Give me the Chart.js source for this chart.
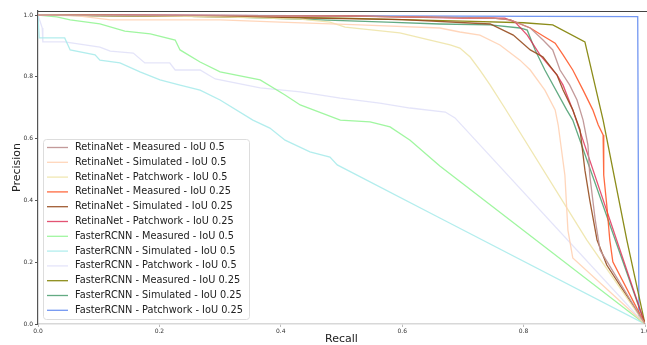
<!DOCTYPE html>
<html>
<head>
<meta charset="utf-8">
<script src="https://cdn.jsdelivr.net/npm/chart.js"></script>
<style>
  html, body { margin: 0; padding: 0; background: #fff; }
  #wrap { width: 647px; height: 345px; position: relative; }
</style>
</head>
<body>
<div id="wrap"><canvas id="prChart"></canvas></div>
<script>
// Recall / precision pairs
const labels = [
  'RetinaNet - Measured - IoU 0.5',
  'RetinaNet - Simulated - IoU 0.5',
  'RetinaNet - Patchwork - IoU 0.5',
  'RetinaNet - Measured - IoU 0.25',
  'RetinaNet - Simulated - IoU 0.25',
  'RetinaNet - Patchwork - IoU 0.25',
  'FasterRCNN - Measured - IoU 0.5',
  'FasterRCNN - Simulated - IoU 0.5',
  'FasterRCNN - Patchwork - IoU 0.5',
  'FasterRCNN - Measured - IoU 0.25',
  'FasterRCNN - Simulated - IoU 0.25',
  'FasterRCNN - Patchwork - IoU 0.25'
];

const colors = [
  'rgba(188,143,143,0.9)',  // rosybrown
  'rgba(255,210,180,0.9)',  // peachpuff
  'rgba(238,228,170,0.9)',  // palegoldenrod
  'rgba(255,80,30,0.85)',   // orangered
  'rgba(150,75,30,0.9)',    // sienna
  'rgba(220,40,80,0.8)',    // crimson
  'rgba(150,245,150,0.9)',  // palegreen
  'rgba(170,235,235,0.9)',  // paleturquoise
  'rgba(225,225,248,0.9)',  // lavender
  'rgba(128,128,0,0.9)',    // olive
  'rgba(60,150,100,0.8)',   // seagreen
  'rgba(100,140,240,0.9)'   // cornflowerblue
];

const retMeas05R = [0, 0.5, 0.75, 0.778, 0.811, 0.832, 0.848, 0.860, 0.876, 0.888, 0.898, 0.906, 0.909, 0.918, 0.926, 1];
const retMeas05P = [1, 0.997, 0.99, 0.984, 0.958, 0.919, 0.887, 0.822, 0.773, 0.725, 0.660, 0.579, 0.482, 0.337, 0.239, 0];

const retSim05R = [0, 0.066, 0.119, 0.300, 0.399, 0.530, 0.662, 0.695, 0.728, 0.761, 0.794, 0.811, 0.835, 0.852, 0.857, 0.868, 0.873, 0.881, 1];
const retSim05P = [1, 0.997, 0.984, 0.984, 0.977, 0.968, 0.958, 0.945, 0.935, 0.903, 0.854, 0.822, 0.757, 0.693, 0.644, 0.482, 0.304, 0.214, 0];

const retPatch05R = [0, 0.185, 0.300, 0.432, 0.481, 0.506, 0.596, 0.646, 0.679, 0.695, 0.712, 0.728, 0.745, 0.769, 0.904, 1];
const retPatch05P = [1, 0.997, 0.994, 0.987, 0.977, 0.961, 0.942, 0.919, 0.903, 0.893, 0.864, 0.822, 0.773, 0.699, 0.272, 0];

const retMeas025R = [0, 0.5, 0.75, 0.778, 0.811, 0.835, 0.852, 0.865, 0.881, 0.898, 0.914, 0.923, 0.931, 0.932, 0.937, 0.942, 0.947, 1];
const retMeas025P = [1, 0.997, 0.99, 0.984, 0.958, 0.929, 0.909, 0.871, 0.822, 0.757, 0.693, 0.644, 0.612, 0.482, 0.385, 0.272, 0.201, 0];

const retSim025R = [0, 0.3, 0.6, 0.745, 0.783, 0.811, 0.832, 0.855, 0.865, 0.881, 0.893, 0.901, 0.909, 0.921, 0.937, 1];
const retSim025P = [1, 0.995, 0.985, 0.971, 0.935, 0.887, 0.864, 0.806, 0.757, 0.693, 0.628, 0.498, 0.401, 0.272, 0.191, 0];

const retPatch025R = [0, 0.5, 0.7, 0.769, 0.786, 0.806, 0.827, 0.855, 0.865, 0.881, 1];
const retPatch025P = [1, 0.997, 0.99, 0.990, 0.977, 0.935, 0.871, 0.806, 0.773, 0.693, 0];

const frcMeas05R = [0, 0.031, 0.053, 0.102, 0.143, 0.185, 0.226, 0.234, 0.267, 0.300, 0.366, 0.407, 0.432, 0.498, 0.547, 0.580, 0.613, 0.662, 1];
const frcMeas05P = [1, 0.994, 0.984, 0.971, 0.948, 0.939, 0.919, 0.887, 0.848, 0.816, 0.790, 0.741, 0.709, 0.660, 0.654, 0.638, 0.595, 0.511, 0];

const frcSim05R = [0, 0.002, 0.044, 0.053, 0.094, 0.102, 0.135, 0.168, 0.201, 0.234, 0.267, 0.300, 0.354, 0.382, 0.407, 0.448, 0.481, 0.493, 0.662, 1];
const frcSim05P = [1, 0.926, 0.926, 0.887, 0.871, 0.854, 0.845, 0.816, 0.790, 0.773, 0.757, 0.725, 0.660, 0.634, 0.595, 0.557, 0.540, 0.515, 0.343, 0];

const frcPatch05R = [0, 0.007, 0.008, 0.044, 0.102, 0.119, 0.157, 0.176, 0.217, 0.226, 0.267, 0.292, 0.366, 0.432, 0.498, 0.563, 0.613, 0.671, 0.687, 1];
const frcPatch05P = [1, 0.958, 0.913, 0.913, 0.896, 0.883, 0.877, 0.845, 0.845, 0.822, 0.822, 0.793, 0.764, 0.751, 0.731, 0.715, 0.699, 0.686, 0.667, 0];

const frcMeas025R = [0, 0.25, 0.5, 0.7, 0.8, 0.848, 0.901, 0.931, 0.970, 1];
const frcMeas025P = [1, 0.996, 0.99, 0.98, 0.975, 0.968, 0.913, 0.660, 0.272, 0];

const frcSim025R = [0, 0.3, 0.465, 0.575, 0.662, 0.745, 0.794, 0.806, 0.819, 0.835, 0.871, 0.881, 1];
const frcSim025P = [1, 0.995, 0.984, 0.977, 0.971, 0.968, 0.958, 0.951, 0.887, 0.822, 0.693, 0.660, 0];

const frcPatch025R = [0, 0.988, 0.990, 1];
const frcPatch025P = [1, 0.995, 0.02, 0];

const recallSets = [retMeas05R, retSim05R, retPatch05R, retMeas025R, retSim025R, retPatch025R,
                    frcMeas05R, frcSim05R, frcPatch05R, frcMeas025R, frcSim025R, frcPatch025R];
const precisionSets = [retMeas05P, retSim05P, retPatch05P, retMeas025P, retSim025P, retPatch025P,
                       frcMeas05P, frcSim05P, frcPatch05P, frcMeas025P, frcSim025P, frcPatch025P];

const tickValues = [0, 0.2, 0.4, 0.6, 0.8, 1.0];

const datasets = labels.map((label, i) => ({
  label: label,
  data: recallSets[i].map((r, j) => ({ x: r, y: precisionSets[i][j] })),
  borderColor: colors[i],
  backgroundColor: colors[i],
  borderWidth: 1.3,
  pointRadius: 0,
  fill: false,
  tension: 0
}));

// legend drawn inside the plot, plus the top frame line
const innerLegend = {
  id: 'innerLegend',
  afterDraw(chart) {
    const ctx = chart.ctx;
    const area = chart.chartArea;
    ctx.save();
    ctx.strokeStyle = '#444';
    ctx.lineWidth = 1.2;
    ctx.beginPath();
    ctx.moveTo(area.left, area.top + 0.5);
    ctx.lineTo(chart.width, area.top + 0.5);
    ctx.stroke();

    const bx = 43, by = 139, bw = 206, bh = 180, rad = 3;
    ctx.fillStyle = 'rgba(255,255,255,0.85)';
    ctx.strokeStyle = '#dddddd';
    ctx.lineWidth = 1;
    ctx.beginPath();
    ctx.roundRect(bx + 0.5, by + 0.5, bw, bh, rad);
    ctx.fill();
    ctx.stroke();

    ctx.font = '9.75px "DejaVu Sans"';
    ctx.textBaseline = 'middle';
    chart.data.datasets.forEach((ds, i) => {
      const y = 147.5 + i * 14.8;
      ctx.strokeStyle = ds.borderColor;
      ctx.lineWidth = 1.3;
      ctx.beginPath();
      ctx.moveTo(47, y);
      ctx.lineTo(68, y);
      ctx.stroke();
      ctx.fillStyle = '#222';
      ctx.fillText(ds.label, 75, y);
    });
    ctx.restore();
  }
};

const ctx = document.getElementById('prChart').getContext('2d');
new Chart(ctx, {
  type: 'line',
  data: { datasets: datasets },
  plugins: [innerLegend],
  options: {
    responsive: true,
    maintainAspectRatio: false,
    animation: false,
    layout: { padding: { top: 11, right: 2, left: 0, bottom: 0 } },
    plugins: {
      legend: { display: false },
      tooltip: { enabled: false }
    },
    scales: {
      x: {
        type: 'linear',
        min: 0,
        max: 1,
        afterBuildTicks: (scale) => { scale.ticks = tickValues.map(v => ({ value: v })); },
        afterFit: (scale) => { scale.height = 21; scale.paddingRight = 0; scale.paddingLeft = 0; },
        ticks: {
          font: { family: 'DejaVu Sans', size: 6 },
          color: '#333',
          padding: 1,
          maxRotation: 0,
          callback: (v) => v.toFixed(1)
        },
        grid: { drawOnChartArea: false, tickLength: 3, color: '#bbb' },
        border: { color: '#d8d8d8', width: 1.5 },
        title: {
          display: true,
          text: 'Recall',
          font: { family: 'DejaVu Sans', size: 11, lineHeight: 1 },
          color: '#222',
          padding: { top: 0, bottom: 0 }
        }
      },
      y: {
        type: 'linear',
        min: 0,
        max: 1.013,
        afterBuildTicks: (scale) => { scale.ticks = tickValues.map(v => ({ value: v })); },
        afterFit: (scale) => { scale.width = 38; },
        ticks: {
          font: { family: 'DejaVu Sans', size: 6 },
          color: '#333',
          padding: 2,
          callback: (v) => v.toFixed(1)
        },
        grid: { drawOnChartArea: false, tickLength: 3, color: '#555' },
        border: { color: '#555', width: 1.2 },
        title: {
          display: true,
          text: 'Precision',
          font: { family: 'DejaVu Sans', size: 11, lineHeight: 1 },
          color: '#222',
          padding: { top: 12, bottom: 0 }
        }
      }
    }
  }
});
</script>
</body>
</html>
